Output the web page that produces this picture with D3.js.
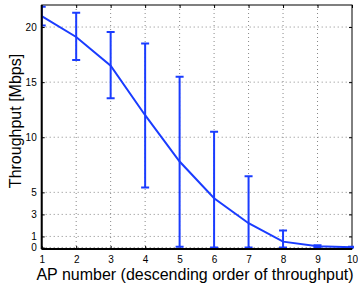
<!DOCTYPE html>
<html><head><meta charset="utf-8">
<script src="https://cdn.jsdelivr.net/npm/d3@7"></script>
<style>body{margin:0;background:#fff}svg{display:block}</style>
</head><body>
<svg id="c" width="358" height="287"></svg>
<script>
const apNumbers = [1,2,3,4,5,6,7,8,9,10];
const meanThroughput = [21.0, 19.1, 16.5, 12.0, 7.8, 4.47, 2.2, 0.53, 0.1, 0.03];
const upperThroughput = [21.85, 21.3, 19.55, 18.5, 15.5, 10.5, 6.45, 1.53, 0.2, 0.06];
const lowerThroughput = [20.15, 17.0, 13.55, 5.45, 0.07, 0, 0, 0, 0.02, 0.0];
const xTicks = [1,2,3,4,5,6,7,8,9,10];
const yTicks = [0,1,3,5,10,15,20];

const svg = d3.select("#c");
const L = 41.7, R = 352, T = 5, B = 249;
const x = d3.scaleLinear().domain([1,10]).range([L,R]);
const y = d3.scaleLinear().domain([-0.14,22]).range([B,T]);
const blue = "#1a3cff";
const font = "Liberation Sans, Arial, sans-serif";

svg.append("clipPath").attr("id","pc").append("rect")
  .attr("x",L).attr("y",T).attr("width",R-L+2).attr("height",B-T);

const g = svg.append("g");
g.selectAll(".gx").data(xTicks.slice(1,-1)).join("line")
  .attr("x1",d=>x(d)).attr("x2",d=>x(d)).attr("y1",T).attr("y2",B)
  .attr("stroke","#888").attr("stroke-width",1).attr("stroke-dasharray","1,3");
g.selectAll(".gy").data(yTicks).join("line")
  .attr("x1",L).attr("x2",R).attr("y1",d=>y(d)).attr("y2",d=>y(d))
  .attr("stroke","#888").attr("stroke-width",1).attr("stroke-dasharray","1,3");

const xb = d3.axisBottom(x).tickValues(xTicks).tickSize(0).tickPadding(7).tickFormat(d3.format("d"));
const xt = d3.axisTop(x).tickValues(xTicks).tickSize(-3).tickFormat("");
const yl = d3.axisLeft(y).tickValues(yTicks).tickSize(-3).tickPadding(5).tickFormat(d3.format("d"));
const yr = d3.axisRight(y).tickValues(yTicks).tickSize(-3).tickFormat("");
const xbb = d3.axisBottom(x).tickValues(xTicks).tickSize(-3).tickFormat("");
function style(sel){ sel.select(".domain").remove(); sel.selectAll("line").attr("stroke","#000");
  sel.selectAll("text").attr("font-family",font).attr("font-size",10).attr("fill","#000"); }
svg.append("g").attr("transform",`translate(0,${B})`).call(xbb).call(style);
svg.append("g").attr("transform",`translate(0,${B})`).call(xb).call(style);
svg.append("g").attr("transform",`translate(0,${T})`).call(xt).call(style);
svg.append("g").attr("transform",`translate(${L},0)`).call(yl).call(style);
svg.append("g").attr("transform",`translate(${R},0)`).call(yr).call(style);
svg.append("rect").attr("x",L).attr("y",T).attr("width",R-L).attr("height",B-T)
  .attr("fill","none").attr("stroke","#000").attr("stroke-width",1);

const data = apNumbers.map((a,i)=>({a, m:meanThroughput[i], u:upperThroughput[i], l:lowerThroughput[i]}));
const p = svg.append("g").attr("clip-path","url(#pc)");
p.selectAll(".eb").data(data).join("line")
  .attr("x1",d=>x(d.a)).attr("x2",d=>x(d.a)).attr("y1",d=>y(d.u)).attr("y2",d=>y(d.l))
  .attr("stroke",blue).attr("stroke-width",2);
const cw = 4;
p.selectAll(".cu").data(data).join("line")
  .attr("x1",d=>x(d.a)-cw).attr("x2",d=>x(d.a)+cw).attr("y1",d=>y(d.u)).attr("y2",d=>y(d.u))
  .attr("stroke",blue).attr("stroke-width",2);
p.selectAll(".cl").data(data).join("line")
  .attr("x1",d=>x(d.a)-cw).attr("x2",d=>x(d.a)+cw).attr("y1",d=>y(d.l)).attr("y2",d=>y(d.l))
  .attr("stroke",blue).attr("stroke-width",2);
p.append("path").datum(data)
  .attr("d", d3.line().x(d=>x(d.a)).y(d=>y(d.m)))
  .attr("fill","none").attr("stroke",blue).attr("stroke-width",2);

svg.append("line").attr("x1",L).attr("x2",L).attr("y1",T).attr("y2",B).attr("stroke","#000").attr("stroke-width",2);
svg.append("line").attr("x1",L).attr("x2",R).attr("y1",B).attr("y2",B).attr("stroke","#000").attr("stroke-width",2);

svg.append("text").attr("x",195).attr("y",280).attr("text-anchor","middle")
  .attr("font-family",font).attr("font-size",16).text("AP number (descending order of throughput)");
svg.append("text").attr("transform","translate(21,121) rotate(-90)").attr("text-anchor","middle")
  .attr("font-family",font).attr("font-size",16).text("Throughput [Mbps]");
</script>
</body></html>
